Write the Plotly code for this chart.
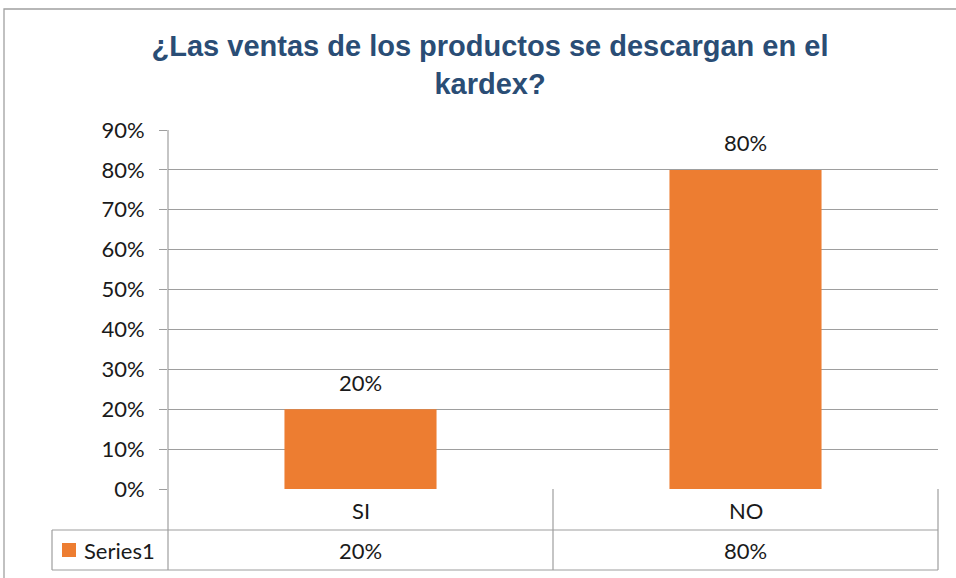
import plotly.graph_objects as go

categories = ["SI", "NO"]
values = [0.20, 0.80]
series_name = "Series1"
title_text = "¿Las ventas de los productos se descargan en el<br>kardex?"

W, H = 956, 578
L, R, T, B = 168, 938, 130, 489  # plot area in pixels


def px(x):
    return (x - L) / (R - L)


def py(y):
    return (B - y) / (B - T)


grid = "#9E9E9E"
font_fam = "Lato, 'Noto Sans', Arial, sans-serif"
fs = 22
tc = "#1a1a1a"

fig = go.Figure()
fig.add_trace(go.Bar(
    x=categories, y=values, name=series_name,
    marker=dict(color="#ED7D31", line=dict(width=0)),
    width=0.395,
    hoverinfo="skip",
))

shapes = []
# outer chart border
shapes.append(dict(type="rect", xref="paper", yref="paper",
                   x0=px(4), x1=px(962), y0=py(9), y1=py(585),
                   line=dict(color="#A0A0A0", width=1.3), layer="below"))


def hline(y, x0, x1):
    shapes.append(dict(type="line", xref="paper", yref="paper",
                       x0=px(x0), x1=px(x1), y0=py(y), y1=py(y),
                       line=dict(color=grid, width=1.2)))


def vline(x, y0, y1):
    shapes.append(dict(type="line", xref="paper", yref="paper",
                       x0=px(x), x1=px(x), y0=py(y0), y1=py(y1),
                       line=dict(color=grid, width=1.2)))


hline(530, 52, 938)
hline(570, 52, 938)
vline(168, 130, 570)
vline(553, 489, 570)
vline(938, 489, 570)
vline(52, 530, 570)
# legend key square
shapes.append(dict(type="rect", xref="paper", yref="paper",
                   x0=px(62), x1=px(76), y0=py(543), y1=py(557),
                   fillcolor="#ED7D31", line=dict(width=0)))

annotations = []
for c, v in zip(categories, values):
    # data label above bar
    annotations.append(dict(x=c, xref="x", y=v, yref="y", text=f"{v:.0%}",
                            xanchor="center", yanchor="middle", yshift=27,
                            showarrow=False, font=dict(size=fs, color=tc, family=font_fam)))
    annotations.append(dict(x=c, xref="x", y=py(510), yref="paper", text=c,
                            xanchor="center", yanchor="middle",
                            showarrow=False, font=dict(size=fs, color=tc, family=font_fam)))
    annotations.append(dict(x=c, xref="x", y=py(550), yref="paper", text=f"{v:.0%}",
                            xanchor="center", yanchor="middle",
                            showarrow=False, font=dict(size=fs, color=tc, family=font_fam)))
annotations.append(dict(x=px(82), xref="paper", y=py(550), yref="paper", text=series_name,
                        xanchor="left", yanchor="middle", showarrow=False,
                        font=dict(size=fs, color=tc, family=font_fam)))

fig.update_layout(
    width=W, height=H,
    margin=dict(l=L, r=W - R, t=T, b=H - B),
    paper_bgcolor="white", plot_bgcolor="white",
    showlegend=False,
    title=dict(text=title_text, xref="container", x=490 / W, xanchor="center",
               yref="container", y=1 - 56 / H, yanchor="middle",
               font=dict(family="'Liberation Sans', Arial, sans-serif", size=29,
                         color="#2A4D75", weight="bold")),
    yaxis=dict(range=[0, 0.9], dtick=0.1, tickformat=".0%", showgrid=True, gridcolor=grid,
               gridwidth=1.2, ticks="outside", ticklen=8, tickcolor=grid, showline=False,
               zeroline=False, ticklabelstandoff=10,
               tickfont=dict(size=fs, color=tc, family=font_fam)),
    xaxis=dict(showticklabels=False, showgrid=False, showline=False, zeroline=False,
               ticks=""),
    shapes=shapes, annotations=annotations,
)

fig.write_html("out.html", config={"displayModeBar": False},
               post_script="document.body.style.margin='0';")
